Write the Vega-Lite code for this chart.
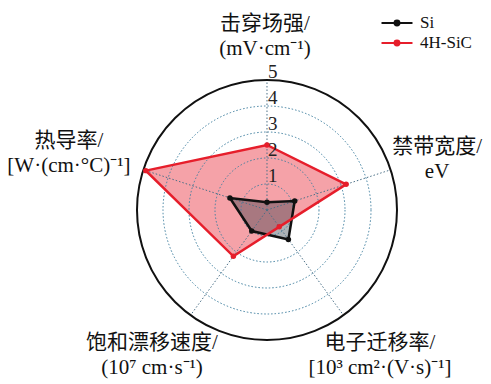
{
  "$schema": "https://vega.github.io/schema/vega-lite/v6.json",
  "width": 491,
  "height": 384,
  "padding": 0,
  "autosize": {"type": "none"},
  "background": "white",
  "config": {
    "view": {"stroke": null},
    "text": {"font": "Liberation Serif, Noto Sans CJK SC", "color": "#111111"}
  },
  "datasets": {
    "values": [
      {"series": "Si", "axis": 0, "value": 0.3},
      {"series": "Si", "axis": 1, "value": 1.12},
      {"series": "Si", "axis": 2, "value": 1.4},
      {"series": "Si", "axis": 3, "value": 1.0},
      {"series": "Si", "axis": 4, "value": 1.5},
      {"series": "4H-SiC", "axis": 0, "value": 2.5},
      {"series": "4H-SiC", "axis": 1, "value": 3.2},
      {"series": "4H-SiC", "axis": 2, "value": 0.8},
      {"series": "4H-SiC", "axis": 3, "value": 2.2},
      {"series": "4H-SiC", "axis": 4, "value": 4.9}
    ],
    "circles": [
      {"r": 1, "label": "1"},
      {"r": 2, "label": "2"},
      {"r": 3, "label": "3"},
      {"r": 4, "label": "4"},
      {"r": 5, "label": "5"}
    ],
    "axes": [
      {"axis": 0, "label": "击穿场强/\n(mV·cm⁻¹)"},
      {"axis": 1, "label": "禁带宽度/\neV"},
      {"axis": 2, "label": "电子迁移率/\n[10³ cm²·(V·s)⁻¹]"},
      {"axis": 3, "label": "饱和漂移速度/\n(10⁷ cm·s⁻¹)"},
      {"axis": 4, "label": "热导率/\n[W·(cm·°C)⁻¹]"}
    ]
  },
  "layer": [
    {
      "data": {"name": "values"},
      "transform": [
        {"filter": "datum.series === '4H-SiC'"},
        {"calculate": "PI/2 - datum.axis*2*PI/5", "as": "ang"},
        {"calculate": "datum.value*cos(datum.ang)", "as": "px"},
        {"calculate": "datum.value*sin(datum.ang)", "as": "py"}
      ],
      "mark": {"type": "line", "interpolate": "linear-closed", "fill": "#e8303f", "fillOpacity": 0.45, "strokeOpacity": 0, "strokeWidth": 0},
      "encoding": {
        "x": {"field": "px", "type": "quantitative", "scale": {"domain": [-10.2692, 8.6154], "nice": false, "zero": false}, "axis": null},
        "y": {"field": "py", "type": "quantitative", "scale": {"domain": [-6.6923, 8.0769], "nice": false, "zero": false}, "axis": null},
        "order": {"field": "axis", "type": "quantitative"}
      }
    },
    {
      "data": {"name": "values"},
      "transform": [
        {"filter": "datum.series === 'Si'"},
        {"calculate": "PI/2 - datum.axis*2*PI/5", "as": "ang"},
        {"calculate": "datum.value*cos(datum.ang)", "as": "px"},
        {"calculate": "datum.value*sin(datum.ang)", "as": "py"}
      ],
      "mark": {"type": "line", "interpolate": "linear-closed", "fill": "#2a3440", "fillOpacity": 0.38, "strokeOpacity": 0, "strokeWidth": 0},
      "encoding": {
        "x": {"field": "px", "type": "quantitative", "axis": null},
        "y": {"field": "py", "type": "quantitative", "axis": null},
        "order": {"field": "axis", "type": "quantitative"}
      }
    },
    {
      "data": {"name": "circles"},
      "transform": [{"filter": "datum.r < 5"}, {"calculate": "0", "as": "ox"}],
      "mark": {"type": "point", "shape": "circle", "filled": false, "stroke": "#3f7fa0", "strokeWidth": 1, "strokeDash": [1.5, 2], "opacity": 1},
      "encoding": {
        "x": {"field": "ox", "type": "quantitative", "axis": null},
        "y": {"field": "ox", "type": "quantitative", "axis": null},
        "size": {"field": "r", "type": "quantitative", "scale": {"type": "pow", "exponent": 2, "domain": [0, 5], "range": [0, 67600], "zero": true}, "legend": null}
      }
    },
    {
      "data": {"name": "axes"},
      "transform": [
        {"calculate": "PI/2 - datum.axis*2*PI/5", "as": "ang"},
        {"calculate": "0", "as": "ox"},
        {"calculate": "5*cos(datum.ang)", "as": "ex"},
        {"calculate": "5*sin(datum.ang)", "as": "ey"}
      ],
      "mark": {"type": "rule", "stroke": "#4a6f86", "strokeWidth": 1, "strokeDash": [1.5, 2]},
      "encoding": {
        "x": {"field": "ox", "type": "quantitative", "axis": null},
        "y": {"field": "ox", "type": "quantitative", "axis": null},
        "x2": {"field": "ex"},
        "y2": {"field": "ey"}
      }
    },
    {
      "data": {"name": "circles"},
      "transform": [{"filter": "datum.r == 5"}, {"calculate": "0", "as": "ox"}],
      "mark": {"type": "point", "shape": "circle", "filled": false, "stroke": "#111111", "strokeWidth": 2, "opacity": 1},
      "encoding": {
        "x": {"field": "ox", "type": "quantitative", "axis": null},
        "y": {"field": "ox", "type": "quantitative", "axis": null},
        "size": {"field": "r", "type": "quantitative", "legend": null}
      }
    },
    {
      "data": {"name": "values"},
      "transform": [
        {"calculate": "PI/2 - datum.axis*2*PI/5", "as": "ang"},
        {"calculate": "datum.value*cos(datum.ang)", "as": "px"},
        {"calculate": "datum.value*sin(datum.ang)", "as": "py"}
      ],
      "mark": {"type": "line", "interpolate": "linear-closed", "strokeWidth": 2.5},
      "encoding": {
        "x": {"field": "px", "type": "quantitative", "axis": null},
        "y": {"field": "py", "type": "quantitative", "axis": null},
        "order": {"field": "axis", "type": "quantitative"},
        "color": {
          "field": "series", "type": "nominal",
          "scale": {"domain": ["Si", "4H-SiC"], "range": ["#111111", "#e61e2b"]},
          "legend": {
            "title": null,
            "orient": "none",
            "legendX": 388,
            "legendY": 14,
            "symbolType": "M-2,0H2M-0.32,0A0.32,0.32,0,1,0,0.32,0A0.32,0.32,0,1,0,-0.32,0Z",
            "symbolSize": 240,
            "symbolStrokeWidth": 2,
            "labelFont": "Liberation Serif, serif",
            "labelFontSize": 17,
            "labelColor": "#111111",
            "labelOffset": 14,
            "rowPadding": 3,
            "padding": 0,
            "encode": {
              "symbols": {
                "update": {
                  "fill": {"scale": "color", "field": "value"},
                  "stroke": {"scale": "color", "field": "value"},
                  "strokeWidth": {"value": 2}
                }
              }
            }
          }
        }
      }
    },
    {
      "data": {"name": "values"},
      "transform": [
        {"calculate": "PI/2 - datum.axis*2*PI/5", "as": "ang"},
        {"calculate": "datum.value*cos(datum.ang)", "as": "px"},
        {"calculate": "datum.value*sin(datum.ang)", "as": "py"}
      ],
      "mark": {"type": "point", "filled": true, "opacity": 1, "size": 30},
      "encoding": {
        "x": {"field": "px", "type": "quantitative", "axis": null},
        "y": {"field": "py", "type": "quantitative", "axis": null},
        "color": {"field": "series", "type": "nominal"}
      }
    },
    {
      "data": {"name": "circles"},
      "transform": [{"calculate": "0", "as": "ox"}],
      "mark": {"type": "text", "align": "left", "baseline": "alphabetic", "dx": 1, "dy": -2, "fontSize": 19, "font": "Liberation Serif, serif", "color": "#222222"},
      "encoding": {
        "x": {"field": "ox", "type": "quantitative", "axis": null},
        "y": {"field": "r", "type": "quantitative", "axis": null},
        "text": {"field": "label"}
      }
    },
    {
      "data": {"name": "axes"},
      "transform": [
        {"filter": "datum.axis == 0"},
        {"calculate": "PI/2 - datum.axis*2*PI/5", "as": "ang"},
        {"calculate": "7*cos(datum.ang)", "as": "lx"},
        {"calculate": "7*sin(datum.ang)", "as": "ly"}
      ],
      "mark": {"type": "text", "align": "center", "baseline": "middle", "lineBreak": "\n", "lineHeight": 25, "fontSize": 21, "dx": -2, "dy": -4},
      "encoding": {
        "x": {"field": "lx", "type": "quantitative", "axis": null},
        "y": {"field": "ly", "type": "quantitative", "axis": null},
        "text": {"field": "label"}
      }
    },
    {
      "data": {"name": "axes"},
      "transform": [
        {"filter": "datum.axis == 1"},
        {"calculate": "PI/2 - datum.axis*2*PI/5", "as": "ang"},
        {"calculate": "7*cos(datum.ang)", "as": "lx"},
        {"calculate": "7*sin(datum.ang)", "as": "ly"}
      ],
      "mark": {"type": "text", "align": "center", "baseline": "middle", "lineBreak": "\n", "lineHeight": 25, "fontSize": 21, "dx": -3, "dy": -7},
      "encoding": {
        "x": {"field": "lx", "type": "quantitative", "axis": null},
        "y": {"field": "ly", "type": "quantitative", "axis": null},
        "text": {"field": "label"}
      }
    },
    {
      "data": {"name": "axes"},
      "transform": [
        {"filter": "datum.axis == 2"},
        {"calculate": "PI/2 - datum.axis*2*PI/5", "as": "ang"},
        {"calculate": "7*cos(datum.ang)", "as": "lx"},
        {"calculate": "7*sin(datum.ang)", "as": "ly"}
      ],
      "mark": {"type": "text", "align": "center", "baseline": "middle", "lineBreak": "\n", "lineHeight": 25, "fontSize": 21, "dx": 6, "dy": -14},
      "encoding": {
        "x": {"field": "lx", "type": "quantitative", "axis": null},
        "y": {"field": "ly", "type": "quantitative", "axis": null},
        "text": {"field": "label"}
      }
    },
    {
      "data": {"name": "axes"},
      "transform": [
        {"filter": "datum.axis == 3"},
        {"calculate": "PI/2 - datum.axis*2*PI/5", "as": "ang"},
        {"calculate": "7*cos(datum.ang)", "as": "lx"},
        {"calculate": "7*sin(datum.ang)", "as": "ly"}
      ],
      "mark": {"type": "text", "align": "center", "baseline": "middle", "lineBreak": "\n", "lineHeight": 25, "fontSize": 21, "dx": -8, "dy": -14},
      "encoding": {
        "x": {"field": "lx", "type": "quantitative", "axis": null},
        "y": {"field": "ly", "type": "quantitative", "axis": null},
        "text": {"field": "label"}
      }
    },
    {
      "data": {"name": "axes"},
      "transform": [
        {"filter": "datum.axis == 4"},
        {"calculate": "PI/2 - datum.axis*2*PI/5", "as": "ang"},
        {"calculate": "7*cos(datum.ang)", "as": "lx"},
        {"calculate": "7*sin(datum.ang)", "as": "ly"}
      ],
      "mark": {"type": "text", "align": "center", "baseline": "middle", "lineBreak": "\n", "lineHeight": 25, "fontSize": 21, "dx": -25, "dy": -13},
      "encoding": {
        "x": {"field": "lx", "type": "quantitative", "axis": null},
        "y": {"field": "ly", "type": "quantitative", "axis": null},
        "text": {"field": "label"}
      }
    }
  ]
}
